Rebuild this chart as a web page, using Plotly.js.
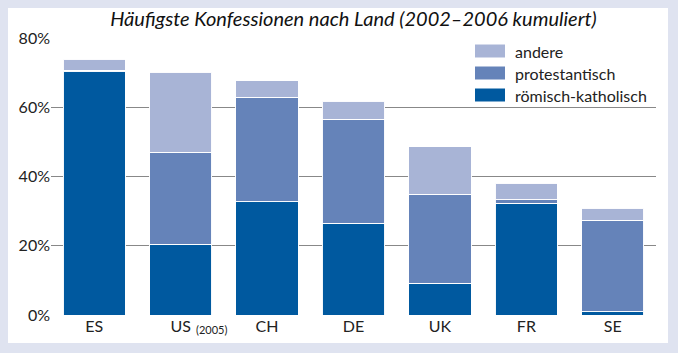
<!DOCTYPE html>
<html><head><meta charset="utf-8">
<script src="https://cdn.plot.ly/plotly-3.0.1.min.js"></script>
<style>html,body{margin:0;padding:0;background:#dfe3f0;}#chart{width:678px;height:353px;}</style>
</head><body><div id="chart"></div>
<script>
const countries = ["ES", "US", "CH", "DE", "UK", "FR", "SE"];
const katholisch = [70.3, 20.4, 32.7, 26.5, 9.1, 32.3, 1.0];
const protestantisch = [0.4, 26.6, 30.2, 30.0, 25.8, 1.0, 26.3];
const andere = [3.1, 23.1, 4.7, 5.2, 13.7, 4.8, 3.5];
const seriesNames = ["römisch-katholisch", "protestantisch", "andere"];
const seriesColors = ["#00599f", "#6583b9", "#a8b4d6"];
const yTicks = [0, 20, 40, 60, 80];
const usNote = "(2005)";

const values = [katholisch, protestantisch, andere];
const font = "Lato, 'Liberation Sans', sans-serif";
const traces = values.map((v, i) => ({
  type: "bar", x: countries, y: v, name: seriesNames[i],
  marker: {color: seriesColors[i], line: {color: "rgba(255,255,255,0.95)", width: 1}},
  hoverinfo: "skip", showlegend: false
}));

const W = 678, H = 353, L = 51, R = 22, T = 38, B = 38;
const pw = W - L - R, ph = H - T - B;
const px = v => (v - L) / pw, py = v => (H - B - v) / ph;

const shapes = [{type: "rect", xref: "paper", yref: "paper", layer: "below",
  x0: px(8), x1: px(668), y0: py(343), y1: py(8), fillcolor: "#ffffff", line: {width: 0}}];
const annotations = [{xref: "x", yref: "paper", x: countries[1], y: py(329), xshift: 31,
  text: usNote, showarrow: false, font: {family: font, size: 11, color: "#222"}, xanchor: "center", yanchor: "middle"}];
// custom legend (top entry = andere)
[2, 1, 0].forEach((s, k) => {
  const cy = 51 + k * 22;
  shapes.push({type: "rect", xref: "paper", yref: "paper", layer: "above",
    x0: px(475), x1: px(505), y0: py(cy + 6.5), y1: py(cy - 6.5), fillcolor: seriesColors[s], line: {width: 0}});
  annotations.push({xref: "paper", yref: "paper", x: px(513), y: py(cy), xanchor: "left", yanchor: "middle",
    text: seriesNames[s], showarrow: false, font: {family: font, size: 16, color: "#222"}});
});

const layout = {
  width: W, height: H, margin: {l: L, r: R, t: T, b: B},
  paper_bgcolor: "#dfe3f0", plot_bgcolor: "rgba(0,0,0,0)",
  barmode: "stack", bargap: 0.28,
  title: {text: "<i>Häufigste Konfessionen nach Land (2002–2006 kumuliert)</i>", x: 0.5, xref: "paper", xanchor: "center",
    y: 1 - 19 / H, yanchor: "middle", font: {family: font, size: 20, color: "#111"}},
  xaxis: {type: "category", range: [-0.5, 6.5], showgrid: false, zeroline: false, showline: false, ticks: "",
    tickfont: {family: font, size: 16, color: "#222"}, fixedrange: true},
  yaxis: {range: [0, 80], tickvals: yTicks, ticktext: yTicks.map(t => t + "%"), showgrid: true,
    gridcolor: "#888888", gridwidth: 1, zeroline: false, showline: false, ticks: "",
    tickfont: {family: font, size: 16, color: "#222"}, fixedrange: true},
  shapes: shapes, annotations: annotations, showlegend: false
};
Plotly.newPlot("chart", traces, layout, {displayModeBar: false, staticPlot: true});
</script></body></html>
